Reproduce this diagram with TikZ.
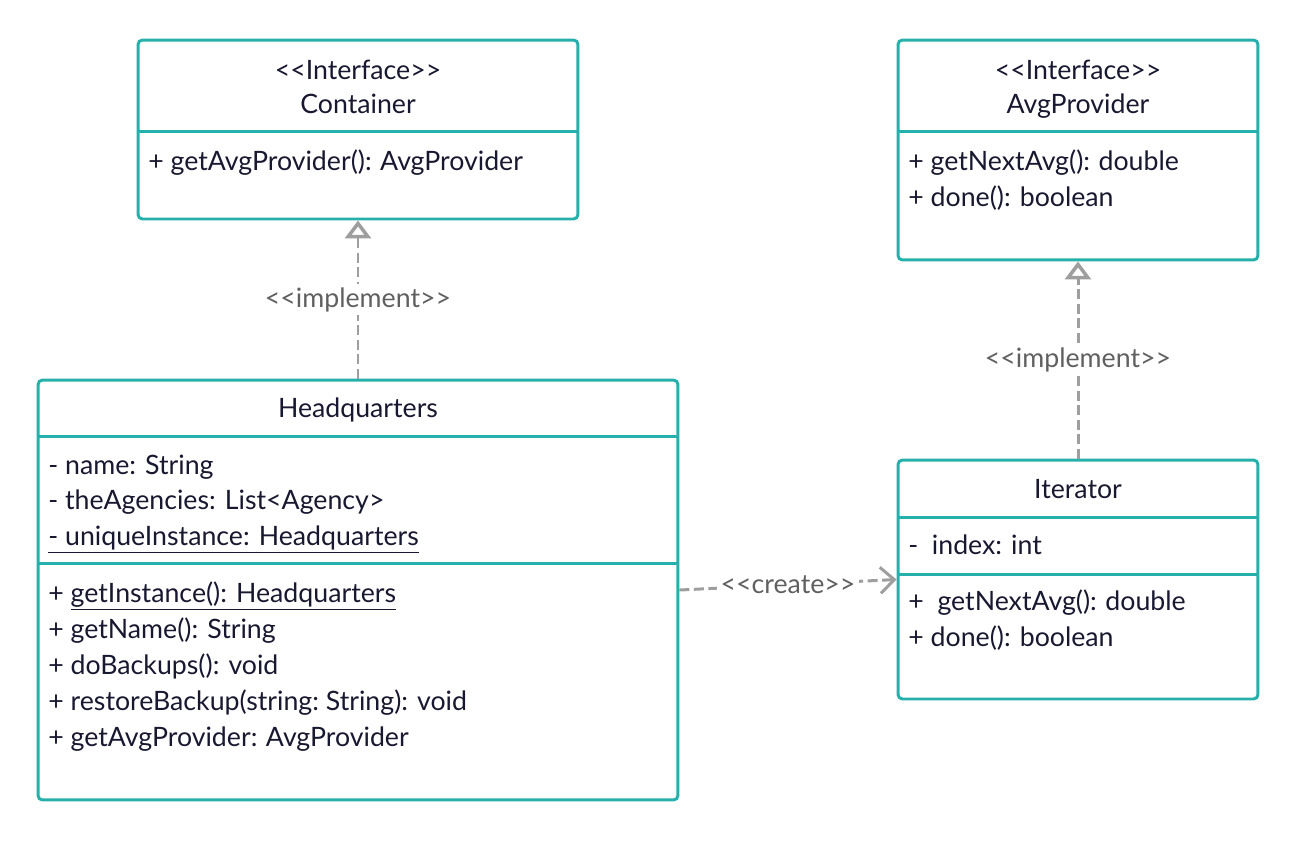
\documentclass[tikz,border=0pt]{standalone}
\usepackage{fontspec}
\setmainfont{Lato}
\usetikzlibrary{arrows.meta,positioning}
\definecolor{umlteal}{RGB}{38,176,171}
\definecolor{umlink}{RGB}{24,24,48}
\definecolor{umlline}{RGB}{158,158,158}
\definecolor{umllabel}{RGB}{96,96,96}
\newcommand{\guil}[1]{<\kern0pt<#1>\kern0pt>}

\tikzset{
  classbox/.style={draw=umlteal,line width=1.7pt,rounded corners=2.5pt,inner sep=0pt},
  divider/.style={draw=umlteal,line width=1.7pt},
  member/.style={anchor=base west,inner sep=0pt,text=umlink,font=\fontsize{15.2}{18}\selectfont},
  classname/.style={anchor=base,inner sep=0pt,text=umlink,font=\fontsize{15.2}{18}\selectfont},
  relation/.style={draw=umlline,line width=1.7pt,dash pattern=on 0.2cm off 0.09cm},
  stereolabel/.style={fill=white,text=umllabel,inner sep=0.07cm,font=\fontsize{15.2}{18}\selectfont}
}

\begin{document}
\begin{tikzpicture}[x=0.02cm,y=-0.02cm]
\useasboundingbox (0,0) rectangle (1298,840);

% class boxes
\node[classbox,minimum width=8.8cm,minimum height=3.58cm] (container) at (358,129.5) {};
\node[classbox,minimum width=7.2cm,minimum height=4.4cm] (avgprovider) at (1078,150) {};
\node[classbox,minimum width=12.8cm,minimum height=8.4cm] (headquarters) at (358,590) {};
\node[classbox,minimum width=7.2cm,minimum height=4.78cm] (iterator) at (1078,579.5) {};

% compartments
\draw[divider] (138,131) -- (578,131);
\draw[divider] (898,131) -- (1258,131);
\draw[divider] (38,436) -- (678,436);
\draw[divider] (38,563) -- (678,563);
\draw[divider] (898,517) -- (1258,517);
\draw[divider] (898,574) -- (1258,574);

% names
\node[classname] (containerstereo) at (358,79) {\guil{Interface}};
\node[classname] (containername) at (358,113) {Container};
\node[classname] (avgstereo) at (1078,79) {\guil{Interface}};
\node[classname] (avgname) at (1078,113) {AvgProvider};
\node[classname] (hqname) at (358,417) {Headquarters};
\node[classname] (itername) at (1078,498) {Iterator};

% members
\node[member] (containerop) at (148,170) {+ getAvgProvider():\kern1pt\ AvgProvider};
\node[member] (avgop1) at (908,170) {+ getNextAvg():\kern1pt\ double};
\node[member] (avgop2) at (908,206) {+ done(): boolean};
\node[member] (hqattr1) at (48,474) {- name: String};
\node[member] (hqattr2) at (48,509) {- theAgencies: List<Agency>};
\node[member] (hqattr3) at (48,545) {\underline{- uniqueInstance: Headquarters}};
\node[member] (hqop1) at (48,602) {+ \underline{getInstance(): Headquarters}};
\node[member] (hqop2) at (48,638) {+ getName(): String};
\node[member] (hqop3) at (48,674) {+ doBackups(): void};
\node[member] (hqop4) at (48,710) {+ restoreBackup(string:\ String): void};
\node[member] (hqop5) at (48,746) {+ getAvgProvider:\kern1pt\ AvgProvider};
\node[member] (iterattr) at (908,554) {-\ \ index: int};
\node[member] (iterop1) at (908,610) {+\ \ getNextAvg():\kern1pt\ double};
\node[member] (iterop2) at (908,646) {+ done(): boolean};

% relations
\draw[relation,-{Triangle[open,length=0.36cm,width=0.52cm,line width=2pt]}] (headquarters) --
  node[stereolabel] (implcontainer) {\guil{implement}} (container);
\draw[relation,-{Triangle[open,length=0.36cm,width=0.52cm,line width=2pt]}] (iterator) --
  node[stereolabel] (impliterator) {\guil{implement}} (avgprovider);
\draw[relation,-{Straight Barb[length=0.28cm,width=0.52cm]}] (headquarters.east) --
  node[stereolabel] (createlabel) {\guil{create}} (iterator.west);
\end{tikzpicture}
\end{document}
